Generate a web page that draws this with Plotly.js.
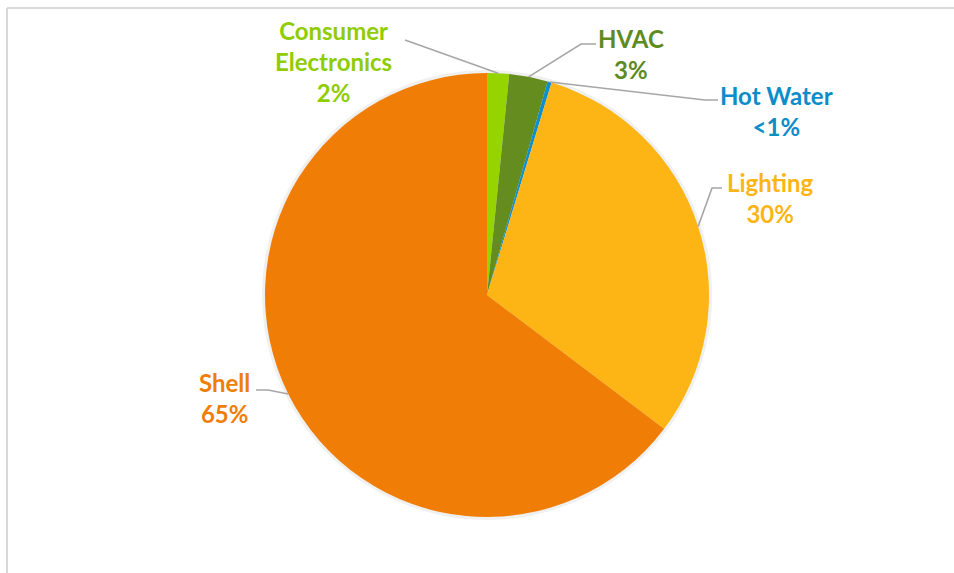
<!DOCTYPE html>
<html>
<head>
<meta charset="utf-8">
<script src="https://cdn.plot.ly/plotly-3.0.1.min.js"></script>
<style>
  html, body { margin: 0; padding: 0; background: #ffffff; }
  #chart { width: 954px; height: 573px; }
</style>
</head>
<body>
<div id="chart"></div>
<script>
// ---- data ----
const categories = ['Consumer Electronics', 'HVAC', 'Hot Water', 'Lighting', 'Shell'];
const labelLines = ['Consumer<br>Electronics', 'HVAC', 'Hot Water', 'Lighting', 'Shell'];
const values = [1.6, 2.8, 0.3, 30.6, 64.7];
const percentLabels = ['2%', '3%', '<1%', '30%', '65%'];

// ---- styles ----
const sliceColors = ['#96D400', '#648C1E', '#0C8FCC', '#FDB515', '#F07E06'];
const textColors  = ['#8FCC00', '#5E8A22', '#0C8CC9', '#FDB515', '#F07E06'];

const W = 954, H = 573;
const cx = 487, cy = 295, R = 222;
// label block centres and leader geometry (layout only, in pixels)
const labelPos = [[333, 62], [631, 54], [776, 111], [770, 198], [224, 398]];
const leaderEnd = [[405, 40], [596, 44], [718, 100], [722, 188], [256, 390]];
const leaderElbow = [null, [581, 44], [705, 100], [712, 188], [268, 390]];

const px = x => x / W;
const py = y => 1 - y / H;

const total = values.reduce((a, b) => a + b, 0);
let cum = 0;
const anchors = values.map(v => {
  const mid = (cum + v / 2) / total;
  cum += v;
  const a = mid * 2 * Math.PI;
  return [cx + R * Math.sin(a), cy - R * Math.cos(a)];
});

const shapes = [
  // faint shadow behind the pie
  { type: 'circle', xref: 'paper', yref: 'paper', layer: 'below',
    x0: px(cx - R - 3), x1: px(cx + R + 3), y0: py(cy + R + 3), y1: py(cy - R - 3),
    fillcolor: 'rgba(0,0,0,0.06)', line: { width: 0 } },
  // frame
  { type: 'line', xref: 'paper', yref: 'paper', x0: px(7), x1: px(954), y0: py(8), y1: py(8),
    line: { color: '#D9D9D9', width: 2 } },
  { type: 'line', xref: 'paper', yref: 'paper', x0: px(7), x1: px(7), y0: py(8), y1: py(573),
    line: { color: '#D9D9D9', width: 2 } }
];

categories.forEach((c, i) => {
  const pts = [leaderEnd[i]];
  if (leaderElbow[i]) pts.push(leaderElbow[i]);
  pts.push(anchors[i]);
  const path = pts.map((p, k) => (k === 0 ? 'M' : 'L') + px(p[0]).toFixed(5) + ',' + py(p[1]).toFixed(5)).join(' ');
  shapes.push({ type: 'path', xref: 'paper', yref: 'paper', path: path,
    line: { color: '#A6A6A6', width: 1.6 } });
});

const annotations = categories.map((c, i) => ({
  xref: 'paper', yref: 'paper',
  x: px(labelPos[i][0]), y: py(labelPos[i][1]),
  xanchor: 'center', yanchor: 'middle', align: 'center',
  showarrow: false,
  text: '<b>' + labelLines[i] + '<br>' + percentLabels[i] + '</b>',
  font: { family: 'Lato, "Open Sans", sans-serif', size: 24, color: textColors[i] }
}));

const trace = {
  type: 'pie',
  labels: categories,
  values: values,
  sort: false,
  direction: 'clockwise',
  rotation: 0,
  textinfo: 'none',
  hoverinfo: 'label+percent',
  marker: { colors: sliceColors, line: { width: 0 } },
  domain: { x: [px(cx - R), px(cx + R)], y: [py(cy + R), py(cy - R)] },
  showlegend: false
};

const layout = {
  width: W, height: H,
  margin: { l: 0, r: 0, t: 0, b: 0 },
  paper_bgcolor: '#ffffff',
  showlegend: false,
  shapes: shapes,
  annotations: annotations
};

Plotly.newPlot('chart', [trace], layout, { displayModeBar: false, staticPlot: true });
</script>
</body>
</html>
